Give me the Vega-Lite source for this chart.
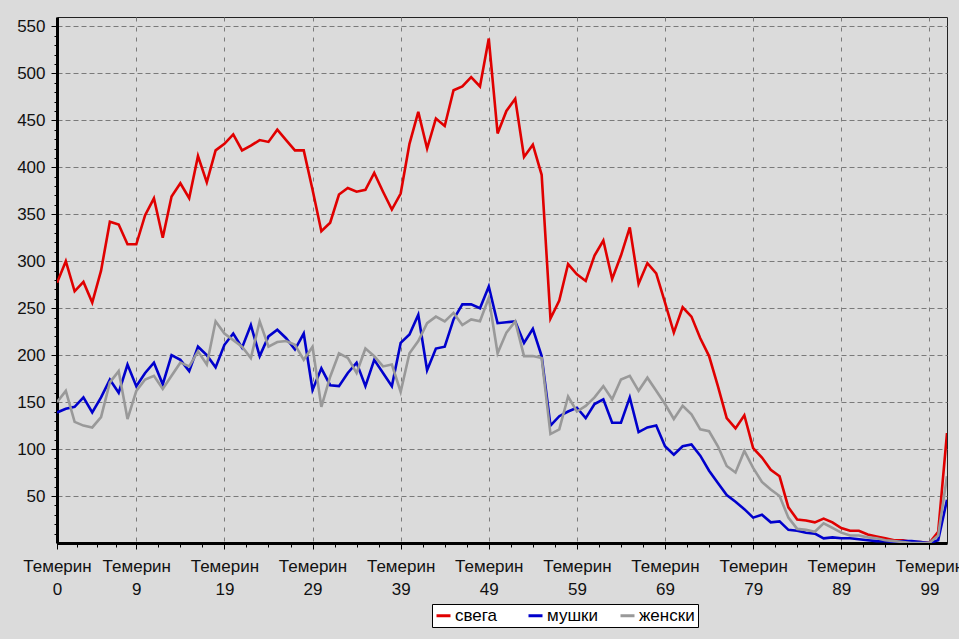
{
  "$schema": "https://vega.github.io/schema/vega-lite/v6.json",
  "width": 890,
  "height": 526,
  "autosize": {"type": "none"},
  "padding": {"left": 57, "top": 17, "right": 12, "bottom": 96},
  "background": "#dbdbdb",
  "config": {
    "view": {"fill": "#dbdbdb", "stroke": "#222222", "strokeWidth": 1},
    "font": "Liberation Sans"
  },
  "data": {"values": [
    {"series":"свега","age":0,"count":277},{"series":"свега","age":1,"count":300},{"series":"свега","age":2,"count":268},{"series":"свега","age":3,"count":278},{"series":"свега","age":4,"count":256},{"series":"свега","age":5,"count":290},{"series":"свега","age":6,"count":342},{"series":"свега","age":7,"count":339},{"series":"свега","age":8,"count":318},{"series":"свега","age":9,"count":318},
    {"series":"свега","age":10,"count":349},{"series":"свега","age":11,"count":367},{"series":"свега","age":12,"count":325},{"series":"свега","age":13,"count":369},{"series":"свега","age":14,"count":383},{"series":"свега","age":15,"count":367},{"series":"свега","age":16,"count":412},{"series":"свега","age":17,"count":384},{"series":"свега","age":18,"count":418},{"series":"свега","age":19,"count":425},
    {"series":"свега","age":20,"count":435},{"series":"свега","age":21,"count":418},{"series":"свега","age":22,"count":423},{"series":"свега","age":23,"count":429},{"series":"свега","age":24,"count":427},{"series":"свега","age":25,"count":440},{"series":"свега","age":26,"count":429},{"series":"свега","age":27,"count":418},{"series":"свега","age":28,"count":418},{"series":"свега","age":29,"count":376},
    {"series":"свега","age":30,"count":332},{"series":"свега","age":31,"count":341},{"series":"свега","age":32,"count":371},{"series":"свега","age":33,"count":378},{"series":"свега","age":34,"count":374},{"series":"свега","age":35,"count":376},{"series":"свега","age":36,"count":394},{"series":"свега","age":37,"count":374},{"series":"свега","age":38,"count":355},{"series":"свега","age":39,"count":372},
    {"series":"свега","age":40,"count":425},{"series":"свега","age":41,"count":459},{"series":"свега","age":42,"count":420},{"series":"свега","age":43,"count":452},{"series":"свега","age":44,"count":444},{"series":"свега","age":45,"count":482},{"series":"свега","age":46,"count":486},{"series":"свега","age":47,"count":496},{"series":"свега","age":48,"count":486},{"series":"свега","age":49,"count":537},
    {"series":"свега","age":50,"count":436},{"series":"свега","age":51,"count":460},{"series":"свега","age":52,"count":473},{"series":"свега","age":53,"count":411},{"series":"свега","age":54,"count":424},{"series":"свега","age":55,"count":392},{"series":"свега","age":56,"count":239},{"series":"свега","age":57,"count":258},{"series":"свега","age":58,"count":297},{"series":"свега","age":59,"count":286},
    {"series":"свега","age":60,"count":279},{"series":"свега","age":61,"count":306},{"series":"свега","age":62,"count":322},{"series":"свега","age":63,"count":281},{"series":"свега","age":64,"count":306},{"series":"свега","age":65,"count":336},{"series":"свега","age":66,"count":276},{"series":"свега","age":67,"count":298},{"series":"свега","age":68,"count":287},{"series":"свега","age":69,"count":256},
    {"series":"свега","age":70,"count":224},{"series":"свега","age":71,"count":251},{"series":"свега","age":72,"count":241},{"series":"свега","age":73,"count":218},{"series":"свега","age":74,"count":199},{"series":"свега","age":75,"count":167},{"series":"свега","age":76,"count":133},{"series":"свега","age":77,"count":122},{"series":"свега","age":78,"count":136},{"series":"свега","age":79,"count":101},
    {"series":"свега","age":80,"count":91},{"series":"свега","age":81,"count":78},{"series":"свега","age":82,"count":71},{"series":"свега","age":83,"count":38},{"series":"свега","age":84,"count":25},{"series":"свега","age":85,"count":24},{"series":"свега","age":86,"count":22},{"series":"свега","age":87,"count":26},{"series":"свега","age":88,"count":22},{"series":"свега","age":89,"count":16},
    {"series":"свега","age":90,"count":13},{"series":"свега","age":91,"count":13},{"series":"свега","age":92,"count":9},{"series":"свега","age":93,"count":7},{"series":"свега","age":94,"count":5},{"series":"свега","age":95,"count":3},{"series":"свега","age":96,"count":3},{"series":"свега","age":97,"count":1},{"series":"свега","age":98,"count":1},{"series":"свега","age":99,"count":0},
    {"series":"свега","age":100,"count":12},{"series":"свега","age":101,"count":117},

    {"series":"мушки","age":0,"count":139},{"series":"мушки","age":1,"count":143},{"series":"мушки","age":2,"count":145},{"series":"мушки","age":3,"count":155},{"series":"мушки","age":4,"count":139},{"series":"мушки","age":5,"count":155},{"series":"мушки","age":6,"count":174},{"series":"мушки","age":7,"count":160},{"series":"мушки","age":8,"count":190},{"series":"мушки","age":9,"count":167},
    {"series":"мушки","age":10,"count":181},{"series":"мушки","age":11,"count":192},{"series":"мушки","age":12,"count":169},{"series":"мушки","age":13,"count":200},{"series":"мушки","age":14,"count":195},{"series":"мушки","age":15,"count":183},{"series":"мушки","age":16,"count":209},{"series":"мушки","age":17,"count":200},{"series":"мушки","age":18,"count":187},{"series":"мушки","age":19,"count":211},
    {"series":"мушки","age":20,"count":223},{"series":"мушки","age":21,"count":208},{"series":"мушки","age":22,"count":232},{"series":"мушки","age":23,"count":199},{"series":"мушки","age":24,"count":220},{"series":"мушки","age":25,"count":227},{"series":"мушки","age":26,"count":218},{"series":"мушки","age":27,"count":206},{"series":"мушки","age":28,"count":223},{"series":"мушки","age":29,"count":163},
    {"series":"мушки","age":30,"count":186},{"series":"мушки","age":31,"count":168},{"series":"мушки","age":32,"count":167},{"series":"мушки","age":33,"count":181},{"series":"мушки","age":34,"count":192},{"series":"мушки","age":35,"count":167},{"series":"мушки","age":36,"count":195},{"series":"мушки","age":37,"count":181},{"series":"мушки","age":38,"count":167},{"series":"мушки","age":39,"count":213},
    {"series":"мушки","age":40,"count":222},{"series":"мушки","age":41,"count":243},{"series":"мушки","age":42,"count":184},{"series":"мушки","age":43,"count":207},{"series":"мушки","age":44,"count":209},{"series":"мушки","age":45,"count":238},{"series":"мушки","age":46,"count":254},{"series":"мушки","age":47,"count":254},{"series":"мушки","age":48,"count":250},{"series":"мушки","age":49,"count":273},
    {"series":"мушки","age":50,"count":234},{"series":"мушки","age":51,"count":235},{"series":"мушки","age":52,"count":236},{"series":"мушки","age":53,"count":213},{"series":"мушки","age":54,"count":228},{"series":"мушки","age":55,"count":199},{"series":"мушки","age":56,"count":125},{"series":"мушки","age":57,"count":135},{"series":"мушки","age":58,"count":140},{"series":"мушки","age":59,"count":144},
    {"series":"мушки","age":60,"count":133},{"series":"мушки","age":61,"count":148},{"series":"мушки","age":62,"count":153},{"series":"мушки","age":63,"count":128},{"series":"мушки","age":64,"count":128},{"series":"мушки","age":65,"count":155},{"series":"мушки","age":66,"count":118},{"series":"мушки","age":67,"count":123},{"series":"мушки","age":68,"count":125},{"series":"мушки","age":69,"count":103},
    {"series":"мушки","age":70,"count":94},{"series":"мушки","age":71,"count":103},{"series":"мушки","age":72,"count":105},{"series":"мушки","age":73,"count":93},{"series":"мушки","age":74,"count":77},{"series":"мушки","age":75,"count":64},{"series":"мушки","age":76,"count":51},{"series":"мушки","age":77,"count":44},{"series":"мушки","age":78,"count":36},{"series":"мушки","age":79,"count":27},
    {"series":"мушки","age":80,"count":30},{"series":"мушки","age":81,"count":22},{"series":"мушки","age":82,"count":23},{"series":"мушки","age":83,"count":14},{"series":"мушки","age":84,"count":13},{"series":"мушки","age":85,"count":11},{"series":"мушки","age":86,"count":10},{"series":"мушки","age":87,"count":5},{"series":"мушки","age":88,"count":6},{"series":"мушки","age":89,"count":5},
    {"series":"мушки","age":90,"count":5},{"series":"мушки","age":91,"count":4},{"series":"мушки","age":92,"count":3},{"series":"мушки","age":93,"count":2},{"series":"мушки","age":94,"count":2},{"series":"мушки","age":95,"count":1},{"series":"мушки","age":96,"count":2},{"series":"мушки","age":97,"count":2},{"series":"мушки","age":98,"count":1},{"series":"мушки","age":99,"count":0},
    {"series":"мушки","age":100,"count":3},{"series":"мушки","age":101,"count":46},

    {"series":"женски","age":0,"count":150},{"series":"женски","age":1,"count":162},{"series":"женски","age":2,"count":129},{"series":"женски","age":3,"count":125},{"series":"женски","age":4,"count":123},{"series":"женски","age":5,"count":134},{"series":"женски","age":6,"count":171},{"series":"женски","age":7,"count":183},{"series":"женски","age":8,"count":132},{"series":"женски","age":9,"count":162},
    {"series":"женски","age":10,"count":174},{"series":"женски","age":11,"count":178},{"series":"женски","age":12,"count":164},{"series":"женски","age":13,"count":178},{"series":"женски","age":14,"count":192},{"series":"женски","age":15,"count":188},{"series":"женски","age":16,"count":204},{"series":"женски","age":17,"count":190},{"series":"женски","age":18,"count":236},{"series":"женски","age":19,"count":223},
    {"series":"женски","age":20,"count":216},{"series":"женски","age":21,"count":209},{"series":"женски","age":22,"count":197},{"series":"женски","age":23,"count":236},{"series":"женски","age":24,"count":209},{"series":"женски","age":25,"count":214},{"series":"женски","age":26,"count":215},{"series":"женски","age":27,"count":211},{"series":"женски","age":28,"count":195},{"series":"женски","age":29,"count":209},
    {"series":"женски","age":30,"count":145},{"series":"женски","age":31,"count":177},{"series":"женски","age":32,"count":202},{"series":"женски","age":33,"count":197},{"series":"женски","age":34,"count":181},{"series":"женски","age":35,"count":207},{"series":"женски","age":36,"count":199},{"series":"женски","age":37,"count":188},{"series":"женски","age":38,"count":190},{"series":"женски","age":39,"count":161},
    {"series":"женски","age":40,"count":202},{"series":"женски","age":41,"count":215},{"series":"женски","age":42,"count":234},{"series":"женски","age":43,"count":241},{"series":"женски","age":44,"count":236},{"series":"женски","age":45,"count":245},{"series":"женски","age":46,"count":232},{"series":"женски","age":47,"count":238},{"series":"женски","age":48,"count":236},{"series":"женски","age":49,"count":261},
    {"series":"женски","age":50,"count":202},{"series":"женски","age":51,"count":224},{"series":"женски","age":52,"count":236},{"series":"женски","age":53,"count":199},{"series":"женски","age":54,"count":199},{"series":"женски","age":55,"count":197},{"series":"женски","age":56,"count":116},{"series":"женски","age":57,"count":121},{"series":"женски","age":58,"count":156},{"series":"женски","age":59,"count":140},
    {"series":"женски","age":60,"count":146},{"series":"женски","age":61,"count":155},{"series":"женски","age":62,"count":167},{"series":"женски","age":63,"count":153},{"series":"женски","age":64,"count":174},{"series":"женски","age":65,"count":178},{"series":"женски","age":66,"count":162},{"series":"женски","age":67,"count":176},{"series":"женски","age":68,"count":162},{"series":"женски","age":69,"count":148},
    {"series":"женски","age":70,"count":132},{"series":"женски","age":71,"count":146},{"series":"женски","age":72,"count":137},{"series":"женски","age":73,"count":121},{"series":"женски","age":74,"count":119},{"series":"женски","age":75,"count":103},{"series":"женски","age":76,"count":82},{"series":"женски","age":77,"count":75},{"series":"женски","age":78,"count":98},{"series":"женски","age":79,"count":80},
    {"series":"женски","age":80,"count":65},{"series":"женски","age":81,"count":57},{"series":"женски","age":82,"count":50},{"series":"женски","age":83,"count":27},{"series":"женски","age":84,"count":15},{"series":"женски","age":85,"count":14},{"series":"женски","age":86,"count":12},{"series":"женски","age":87,"count":21},{"series":"женски","age":88,"count":16},{"series":"женски","age":89,"count":11},
    {"series":"женски","age":90,"count":8},{"series":"женски","age":91,"count":8},{"series":"женски","age":92,"count":6},{"series":"женски","age":93,"count":5},{"series":"женски","age":94,"count":3},{"series":"женски","age":95,"count":2},{"series":"женски","age":96,"count":1},{"series":"женски","age":97,"count":0},{"series":"женски","age":98,"count":0},{"series":"женски","age":99,"count":0},
    {"series":"женски","age":100,"count":8},{"series":"женски","age":101,"count":71}
  ]},
  "layer": [
    {
      "mark": {"type": "line", "strokeOpacity": 0, "opacity": 0},
      "encoding": {
        "x": {
          "field": "age", "type": "quantitative",
          "scale": {"domain": [0, 101], "nice": false, "zero": false},
          "axis": {
            "title": null, "orient": "bottom",
            "values": [0,2.25,4.5,6.75,9,11.5,14,16.5,19,21.5,24,26.5,29,31.5,34,36.5,39,41.5,44,46.5,49,51.5,54,56.5,59,61.5,64,66.5,69,71.5,74,76.5,79,81.5,84,86.5,89,91.5,94,96.5,99],
            "labels": false, "grid": false, "domain": false,
            "ticks": true, "tickColor": "#000000", "tickWidth": 1, "tickSize": 4
          }
        },
        "y": {
          "field": "count", "type": "quantitative",
          "scale": {"domain": [0, 560], "nice": false, "zero": true},
          "axis": {
            "title": null, "orient": "left",
            "values": [10,20,30,40,60,70,80,90,110,120,130,140,160,170,180,190,210,220,230,240,260,270,280,290,310,320,330,340,360,370,380,390,410,420,430,440,460,470,480,490,510,520,530,540],
            "labels": false, "grid": false, "domain": false,
            "ticks": true, "tickColor": "#000000", "tickWidth": 1, "tickSize": 3
          }
        }
      }
    },
    {
      "mark": {"type": "line", "strokeWidth": 2.6, "clip": true},
      "encoding": {
        "x": {
          "field": "age", "type": "quantitative",
          "axis": {
            "title": null, "orient": "bottom",
            "values": [0,9,19,29,39,49,59,69,79,89,99],
            "labelExpr": "['Темерин', '' + datum.value]",
            "grid": true,
            "gridColor": "#7a7a7a",
            "gridDash": [4, 6],
            "gridWidth": 1,
            "tickColor": "#000000",
            "tickWidth": 1,
            "tickSize": 6,
            "domainColor": "#000000",
            "domainWidth": 3,
            "labelFont": "Liberation Sans",
            "labelFontSize": 17,
            "labelColor": "#111111",
            "labelLineHeight": 23,
            "labelPadding": 9,
            "labelOverlap": false,
            "labelBound": false,
            "labelFlush": false,
            "labelAlign": "center"
          }
        },
        "y": {
          "field": "count", "type": "quantitative",
          "axis": {
            "title": null, "orient": "left",
            "values": [50,100,150,200,250,300,350,400,450,500,550],
            "grid": true,
            "gridColor": "#7a7a7a",
            "gridDash": [5, 3],
            "gridWidth": 1,
            "tickColor": "#000000",
            "tickWidth": 1,
            "tickSize": 6,
            "domainColor": "#000000",
            "domainWidth": 3,
            "labelFont": "Liberation Sans",
            "labelFontSize": 17,
            "labelColor": "#111111",
            "labelPadding": 6,
            "labelOverlap": false,
            "labelBound": false
          }
        },
        "color": {
          "field": "series", "type": "nominal",
          "scale": {"domain": ["свега", "мушки", "женски"], "range": ["#e00000", "#0000cc", "#999999"]},
          "legend": {
            "title": null,
            "orient": "none",
            "legendX": 375,
            "legendY": 587,
            "direction": "horizontal",
            "fillColor": "#ffffff",
            "strokeColor": "#000000",
            "padding": 3,
            "symbolType": "stroke",
            "symbolSize": 196,
            "symbolStrokeWidth": 3,
            "labelFont": "Liberation Sans",
            "labelFontSize": 17,
            "labelColor": "#000000",
            "labelOffset": 3,
            "columnPadding": 11,
            "gridAlign": "all"
          }
        }
      }
    }
  ],
  "resolve": {"axis": {"x": "independent", "y": "independent"}}
}
